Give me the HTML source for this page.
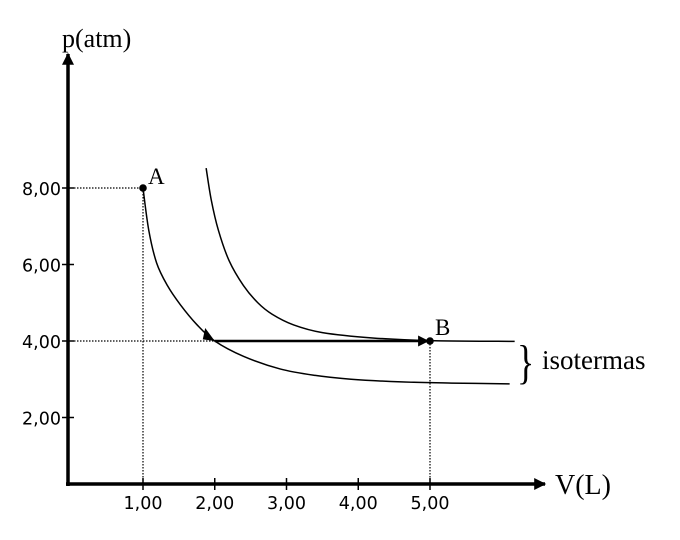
<!DOCTYPE html>
<html><head><meta charset="utf-8"><style>
html,body{margin:0;padding:0;background:#fff;width:680px;height:540px;overflow:hidden}
svg{display:block}
.tk{font-family:"DejaVu Sans","Liberation Sans",sans-serif;font-size:17.5px;fill:#000}
.sr{font-family:"Liberation Serif",serif;fill:#000}
</style></head><body>
<svg id="chart" width="680" height="540" viewBox="0 0 680 540">
<defs>
<marker id="ah" viewBox="0 0 10 10" refX="9" refY="5" markerWidth="16" markerHeight="12" markerUnits="userSpaceOnUse" orient="auto"><path d="M0,0L10,5L0,10z"/></marker>
<marker id="ah2" viewBox="0 0 10 10" refX="9" refY="5" markerWidth="14" markerHeight="11" markerUnits="userSpaceOnUse" orient="auto"><path d="M0,0L10,5L0,10z"/></marker>
</defs>
<g id="axes"></g>
<g id="marks"></g>
</svg>
<script>
const xTicks=[1,2,3,4,5];
const xTickLabels=["1,00","2,00","3,00","4,00","5,00"];
const yTicks=[2,4,6,8];
const yTickLabels=["2,00","4,00","6,00","8,00"];
const lowerV=[1,1.08,1.19,1.34,1.52,1.75,2,2.4,2.91,3.4,3.9,4.6,5.3,6.11];
const lowerP=[8,6.9,6.04,5.45,4.95,4.43,4,3.6,3.27,3.1,3.0,2.93,2.9,2.88];
const upperV=[1.88,1.95,2.05,2.2,2.4,2.6,2.8,3.1,3.5,4.2,5,6.18];
const upperP=[8.52,7.7,6.9,6.1,5.45,5.0,4.7,4.42,4.22,4.08,4.01,3.99];
const pointA=[1,8];
const pointB=[5,4];
const x=v=>71.25+71.75*v;
const y=p=>494-38.25*p;
const NS="http://www.w3.org/2000/svg";
const axes=document.getElementById('axes'),marks=document.getElementById('marks');
function mk(tag,attrs,parent,text){const e=document.createElementNS(NS,tag);for(const k in attrs)e.setAttribute(k,attrs[k]);if(text!==undefined)e.textContent=text;parent.appendChild(e);return e;}
let e;
e=mk('line',{x1:68,y1:486,x2:68,y2:54,stroke:'#000','stroke-width':3.5,'marker-end':'url(#ah)'},axes);


e=mk('line',{x1:66,y1:484,x2:545,y2:484,stroke:'#000','stroke-width':3.5,'marker-end':'url(#ah)'},axes);


e=mk('text',{x:62,y:47,class:'sr','font-size':26},axes,'p(atm)');


e=mk('text',{x:555,y:494,class:'sr','font-size':28},axes,'V(L)');


xTicks.forEach((v,i)=>{
 e=mk('line',{x1:x(v),y1:478,x2:x(v),y2:490,stroke:'#000','stroke-width':1.5},axes);
 
 
 e=mk('text',{x:x(v),y:509,class:'tk','text-anchor':'middle'},axes,xTickLabels[i]);
 
 
});
yTicks.forEach((p,i)=>{
 e=mk('line',{x1:62,y1:y(p),x2:74,y2:y(p),stroke:'#000','stroke-width':1.5},axes);
 
 
 e=mk('text',{x:61,y:y(p)+7,class:'tk','text-anchor':'end'},axes,yTickLabels[i]);
 
 
});
e=mk('path',{d:`M74,${y(pointA[1])}H${x(pointA[0])}V484`,fill:'none',stroke:'#000','stroke-width':1.2,'stroke-dasharray':'1.5,1.5'},marks);


e=mk('path',{d:`M74,${y(pointB[1])}H${x(2)}M${x(pointB[0])},${y(pointB[1])}V484`,fill:'none',stroke:'#000','stroke-width':1.2,'stroke-dasharray':'1.5,1.5'},marks);


function smooth(V,P){const pts=V.map((v,i)=>[x(v),y(P[i])]);let d=`M${pts[0][0]},${pts[0][1]}`;for(let i=0;i<pts.length-1;i++){const p0=pts[i-1]||pts[i],p1=pts[i],p2=pts[i+1],p3=pts[i+2]||p2;d+=`C${p1[0]+(p2[0]-p0[0])/6},${p1[1]+(p2[1]-p0[1])/6} ${p2[0]-(p3[0]-p1[0])/6},${p2[1]-(p3[1]-p1[1])/6} ${p2[0]},${p2[1]}`;}return d;}
e=mk('path',{d:smooth(lowerV,lowerP),fill:'none',stroke:'#000','stroke-width':1.5},marks);


e=mk('path',{d:smooth(upperV,upperP),fill:'none',stroke:'#000','stroke-width':1.5},marks);


e=mk('path',{d:'M0,0L-15,-6L-11,5z',fill:'#000',transform:`translate(${x(2)},${y(4)}) rotate(32)`},marks);


e=mk('line',{x1:x(2),y1:y(4),x2:x(pointB[0])-2,y2:y(4),stroke:'#000','stroke-width':2.5,'marker-end':'url(#ah2)'},marks);


e=mk('circle',{cx:x(pointA[0]),cy:y(pointA[1]),r:3.8,fill:'#000'},marks);


e=mk('circle',{cx:x(pointB[0]),cy:y(pointB[1]),r:3.8,fill:'#000'},marks);


e=mk('text',{x:x(pointA[0])+5,y:y(pointA[1])-4,class:'sr','font-size':23},marks,'A');


e=mk('text',{x:x(pointB[0])+5,y:y(pointB[1])-6,class:'sr','font-size':23},marks,'B');


e=mk('text',{x:0,y:0,class:'sr','font-size':48,transform:'translate(517,378) scale(0.75,1)'},marks,'}');


e=mk('text',{x:542,y:369,class:'sr','font-size':27},marks,'isotermas');


</script>
</body></html>
